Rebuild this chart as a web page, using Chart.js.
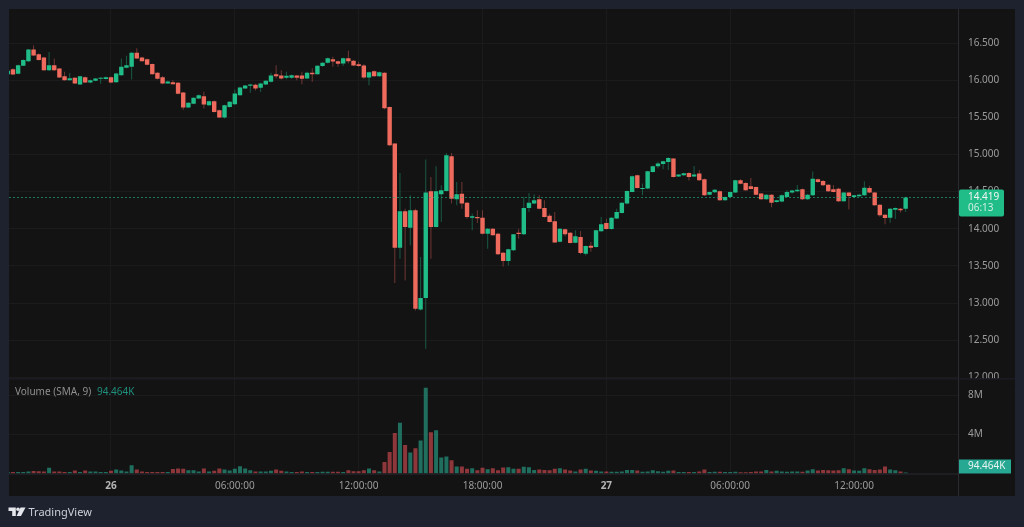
<!DOCTYPE html>
<html>
<head>
<meta charset="utf-8">
<title>Price and volume, 15 minute candles</title>
<style>
  html, body { margin: 0; padding: 0; background: #1e222e; overflow: hidden; }
  canvas { display: block; position: absolute; left: 0; top: 0; }
</style>
<script src="https://cdn.jsdelivr.net/npm/chart.js@4"></script>
</head>
<body>
<canvas id="chart" width="1024" height="527"></canvas>
<script>
// Bar slots counted in 15 minute steps from midnight on the 26th.
const firstSlot = -20;

const opens = [
  16081,16148,16085,16195,16256,16413,16350,16306,16135,16202,
  16157,16054,16000,16031,15942,16040,15969,15991,16018,16014,
  16040,15973,16067,16166,16180,16368,16306,16283,16216,16099,
  16040,15955,15973,15964,15834,15632,15681,15753,15784,15663,
  15717,15595,15497,15640,15676,15798,15888,15924,15937,15897,
  15941,15977,16081,16063,16031,16031,16063,16063,16022,16099,
  16081,16189,16233,16283,16256,16224,16296,16260,16215,16197,
  16036,16121,16054,16099,15640,15146,13744,14234,14014,14248,
  12913,13066,14504,14023,14463,14508,14975,14396,14472,14351,
  14149,14158,14149,13933,14001,13933,13677,13565,13709,13947,
  13924,14279,14338,14396,14279,14176,14100,13825,13992,13947,
  13812,13888,13664,13772,13754,13965,14077,13996,14136,14212,
  14338,14495,14720,14535,14540,14765,14841,14872,14899,14944,
  14702,14720,14751,14702,14742,14666,14459,14490,14504,14383,
  14428,14486,14652,14616,14571,14562,14473,14396,14459,14360,
  14365,14427,14486,14504,14530,14396,14450,14665,14643,14593,
  14530,14539,14369,14486,14427,14436,14450,14548,14486,14324,
  14189,14149,14256,14270,14270
];
const highs = [
  16135,16160,16210,16280,16420,16470,16360,16315,16380,16290,
  16165,16112,16095,16040,16060,16050,16010,16030,16040,16050,
  16050,16100,16290,16330,16375,16430,16315,16290,16225,16105,
  16055,15995,16000,15975,15840,15700,15768,15810,15843,15725,
  15725,15605,15670,15715,15874,15910,15935,15950,15950,15965,
  15998,16099,16202,16135,16112,16075,16070,16112,16112,16160,
  16200,16240,16305,16315,16265,16305,16395,16270,16247,16215,
  16115,16130,16115,16105,15645,15150,14751,14270,14450,14270,
  13619,14931,14697,14841,14585,15020,15020,14630,14630,14360,
  14205,14248,14248,14010,14010,13945,13685,13730,13930,14000,
  14428,14481,14463,14450,14383,14203,14225,14005,14000,13955,
  13978,13970,13775,13820,13985,14158,14135,14155,14270,14358,
  14515,14715,14728,14610,14782,14850,14900,14915,14965,14952,
  14735,14755,14760,14845,14790,14675,14500,14535,14515,14435,
  14500,14660,14665,14625,14684,14570,14480,14465,14465,14390,
  14465,14520,14525,14590,14540,14470,14770,14675,14655,14600,
  14590,14550,14495,14490,14455,14470,14640,14580,14495,14330,
  14195,14280,14285,14280,14430
];
const lows = [
  16050,16070,16080,16190,16245,16325,16260,16125,16125,16125,
  16030,15995,15995,15950,15935,15960,15960,15985,15950,16010,
  15960,15965,16060,16160,16010,16285,16250,16200,16075,16010,
  15945,15950,15940,15810,15600,15625,15675,15745,15618,15650,
  15565,15490,15485,15630,15670,15790,15880,15829,15860,15842,
  15935,15970,16022,16009,16013,16020,16000,15946,16015,15977,
  16075,16180,16225,16180,16180,16190,16225,16190,16180,16020,
  15932,16045,16045,15610,15115,13268,13596,13304,13776,12900,
  12900,12383,13596,14015,14090,14500,14338,14315,14270,14135,
  13978,14077,13925,13731,13905,13645,13493,13506,13700,13866,
  13915,14225,14330,14262,14150,14085,13810,13815,13900,13800,
  13805,13655,13640,13690,13745,13960,13990,13985,14130,14205,
  14330,14490,14540,14450,14530,14755,14810,14800,14790,14690,
  14695,14710,14650,14695,14645,14440,14450,14480,14375,14375,
  14420,14480,14600,14510,14530,14450,14390,14390,14290,14350,
  14355,14420,14470,14490,14390,14390,14440,14620,14575,14495,
  14490,14360,14360,14260,14420,14430,14440,14480,14305,14160,
  14060,14080,14130,14220,14225
];
const closes = [
  16126,16076,16202,16270,16413,16333,16270,16135,16202,16135,
  16036,16000,16027,15955,16054,15969,16000,16022,16031,16040,
  15969,16090,16180,16202,16368,16292,16256,16207,16081,16018,
  15955,15982,15946,15816,15632,15695,15762,15798,15672,15717,
  15573,15497,15663,15708,15820,15901,15928,15941,15888,15955,
  15991,16063,16054,16022,16058,16067,16031,16018,16099,16081,
  16193,16233,16296,16251,16220,16296,16256,16197,16189,16036,
  16108,16054,16108,15622,15124,13744,14234,14023,14248,12922,
  13066,14486,14023,14504,14517,14989,14405,14463,14338,14158,
  14167,14140,13933,14001,13911,13655,13565,13722,13924,13929,
  14279,14351,14383,14270,14158,14091,13816,14001,13924,13807,
  13897,13673,13767,13745,13978,14059,13996,14149,14225,14351,
  14508,14706,14549,14549,14774,14841,14877,14908,14953,14697,
  14729,14747,14697,14729,14652,14450,14495,14526,14383,14428,
  14495,14652,14607,14517,14535,14459,14396,14459,14351,14383,
  14450,14495,14513,14526,14396,14459,14674,14629,14584,14504,
  14495,14369,14486,14441,14450,14459,14553,14486,14315,14180,
  14144,14270,14279,14247,14419
];
// Traded volume per bar, in millions.
const volumes = [
  .15,.15,.15,.15,.2,.25,.22,.2,.6,.2,
  .2,.15,.15,.3,.15,.3,.2,.2,.15,.15,
  .27,.4,.3,.2,.85,.4,.2,.15,.15,.15,
  .15,.15,.45,.5,.48,.33,.33,.2,.5,.2,
  .27,.5,.4,.31,.48,.75,.5,.33,.2,.2,
  .2,.27,.4,.27,.2,.15,.15,.2,.15,.15,
  .15,.17,.17,.17,.17,.15,.34,.24,.24,.34,
  .5,.34,.2,1.19,2.2,4.15,5.2,2.93,2.14,2.59,
  3.37,8.78,4.22,4.42,1.63,1.73,1.36,.71,.71,.48,
  .54,.34,.58,.44,.54,.34,.61,.65,.48,.48,
  .68,.65,.37,.41,.37,.34,.48,.54,.41,.31,
  .2,.41,.48,.31,.27,.2,.2,.17,.17,.2,
  .37,.37,.31,.17,.2,.34,.24,.17,.27,.31,
  .15,.15,.15,.15,.2,.41,.15,.17,.17,.15,
  .15,.17,.12,.12,.15,.2,.2,.37,.2,.27,
  .2,.17,.2,.2,.17,.31,.44,.31,.37,.34,
  .31,.34,.54,.44,.31,.27,.54,.44,.37,.41,
  .71,.41,.34,.2,.094464
];

const timeTickSlots = [0, 24, 48, 72, 96, 120, 144];
const timeLabels = ['26', '06:00:00', '12:00:00', '18:00:00', '27', '06:00:00', '12:00:00'];
const dayLabels = ['26', '27'];
const priceTicks = [16500, 16000, 15500, 15000, 14500, 14000, 13500, 13000, 12500, 12000];
const volumeTicks = [4, 8];
const lastPriceText = '14.419';
const countdownText = '06:13';
const lastVolumeText = '94.464K';
const lastPrice = closes[closes.length - 1];

const UP = '#20bd88', DOWN = '#ee6a5c';
const UP_WICK = 'rgba(32,189,136,.42)', DOWN_WICK = 'rgba(238,106,92,.42)';
const UP_VOL = 'rgba(38,166,140,.62)', DOWN_VOL = 'rgba(239,83,90,.56)';
const FONT = '"Noto Sans"';
const PANEL = '#131314', GRID = '#1b1b1e', EDGE = '#2a2b30', LABEL = '#9c9c9c';

const slots = opens.map((_, i) => firstSlot + i);
const isUp = i => closes[i] >= opens[i];

const wicks = slots.map((x, i) => ({ x, y: [lows[i], highs[i]] }));
const bodies = slots.map((x, i) => ({ x, y: [opens[i], closes[i]] }));
const volumeBars = slots.map((x, i) => ({ x, y: volumes[i] }));

const labelForSlot = slot => timeLabels[timeTickSlots.indexOf(slot)];
const useTicks = values => scale => { scale.ticks = values.map(value => ({ value })); };

// Fixed axis widths and no extra room for overhanging tick labels.
const fitWidth = width => scale => {
  scale.width = width;
  scale.paddingTop = 0;
  scale.paddingBottom = 0;
};

function roundedRect(ctx, x, y, w, h, r) {
  ctx.beginPath();
  ctx.roundRect(x, y, w, h, r);
  ctx.fill();
}

// Dark panel behind both panes, with the outer page colour around it.
const backdrop = {
  id: 'backdrop',
  beforeDraw(chart) {
    const { ctx } = chart;
    ctx.save();
    ctx.fillStyle = '#1e222e';
    ctx.fillRect(0, 0, chart.width, chart.height);
    ctx.fillStyle = PANEL;
    ctx.fillRect(9, 9, 1006, 487);
    ctx.restore();
  }
};

// Last price line, axis tags, legend line, pane edges and the brand mark.
const overlays = {
  id: 'overlays',
  afterDraw(chart) {
    const { ctx, chartArea: a, scales } = chart;
    const priceY = scales.y.getPixelForValue(lastPrice);
    const paneEdge = scales.y.bottom;
    ctx.save();

    // The lowest price label is cut off at the pane edge.
    ctx.fillStyle = PANEL;
    ctx.fillRect(a.right + 1, paneEdge, 56, 7);

    ctx.strokeStyle = EDGE;
    ctx.lineWidth = 1;
    ctx.beginPath();
    ctx.moveTo(a.right + .5, 9);
    ctx.lineTo(a.right + .5, 496);
    ctx.moveTo(a.left, a.bottom + .5);
    ctx.lineTo(a.right, a.bottom + .5);
    ctx.stroke();

    ctx.strokeStyle = '#20202a';
    ctx.beginPath();
    ctx.moveTo(a.left, paneEdge + .5);
    ctx.lineTo(1015, paneEdge + .5);
    ctx.stroke();

    ctx.strokeStyle = UP;
    ctx.globalAlpha = .6;
    ctx.setLineDash([2, 2]);
    ctx.beginPath();
    ctx.moveTo(a.left, Math.floor(priceY) + .5);
    ctx.lineTo(a.right, Math.floor(priceY) + .5);
    ctx.stroke();
    ctx.setLineDash([]);
    ctx.globalAlpha = 1;

    ctx.fillStyle = UP;
    roundedRect(ctx, a.right + 1, priceY - 8, 45, 27, 2);
    ctx.fillStyle = '#f2f5f4';
    ctx.font = `10px ${FONT}`;
    ctx.textAlign = 'left';
    ctx.textBaseline = 'middle';
    ctx.fillText(lastPriceText, a.right + 10, priceY);
    ctx.fillStyle = '#cfeee3';
    ctx.fillText(countdownText, a.right + 10, priceY + 11);

    ctx.fillStyle = '#26a892';
    ctx.fillRect(a.right + 1, 459.5, 52, 14);
    ctx.fillStyle = '#e8f4f1';
    ctx.fillText(lastVolumeText, a.right + 10, 466.5);

    ctx.fillStyle = '#8f8f8f';
    ctx.fillText('Volume (SMA, 9)', 15, 392);
    ctx.fillStyle = '#1f8f7b';
    ctx.fillText(lastVolumeText, 97, 392);

    ctx.fillStyle = '#e4e6ec';
    ctx.beginPath();
    ctx.moveTo(8.5, 507.5); ctx.lineTo(15.8, 507.5); ctx.lineTo(15.8, 516);
    ctx.lineTo(12.2, 516); ctx.lineTo(12.2, 511); ctx.lineTo(8.5, 511);
    ctx.closePath();
    ctx.fill();
    ctx.beginPath();
    ctx.arc(18, 509.3, 1.8, 0, Math.PI * 2);
    ctx.fill();
    ctx.beginPath();
    ctx.moveTo(20.5, 507.5); ctx.lineTo(25.5, 507.5); ctx.lineTo(21, 516);
    ctx.lineTo(16.6, 516);
    ctx.closePath();
    ctx.fill();

    ctx.fillStyle = '#ccd0d8';
    ctx.font = `11px ${FONT}`;
    ctx.fillText('TradingView', 28.5, 513);
    ctx.restore();
  }
};

new Chart(document.getElementById('chart'), {
  data: {
    datasets: [
      {
        type: 'bar', label: 'Wick', data: wicks, yAxisID: 'y', order: 3,
        barThickness: 1, grouped: false, inflateAmount: 0,
        backgroundColor: wicks.map((_, i) => isUp(i) ? UP_WICK : DOWN_WICK)
      },
      {
        type: 'bar', label: 'Body', data: bodies, yAxisID: 'y', order: 2,
        barThickness: 4.4, grouped: false, inflateAmount: 0,
        backgroundColor: bodies.map((_, i) => isUp(i) ? UP : DOWN)
      },
      {
        type: 'bar', label: 'Volume', data: volumeBars, yAxisID: 'volume', order: 1,
        barThickness: 4, grouped: false, inflateAmount: 0,
        backgroundColor: volumeBars.map((_, i) => isUp(i) ? UP_VOL : DOWN_VOL)
      }
    ]
  },
  options: {
    responsive: false,
    animation: false,
    layout: { padding: { left: 9, top: 9, right: 9, bottom: 31 } },
    plugins: { legend: { display: false }, tooltip: { enabled: false } },
    scales: {
      x: {
        type: 'linear',
        offset: false,
        min: -19.767,
        max: 164.147,
        afterBuildTicks: useTicks(timeTickSlots),
        afterFit(scale) {
          scale.height = 22.5;
          scale.paddingLeft = 0;
          scale.paddingRight = 0;
        },
        grid: { color: GRID, drawTicks: false, offset: false },
        border: { display: false },
        ticks: {
          autoSkip: false,
          maxRotation: 0,
          padding: 7,
          color(ctx) {
            return dayLabels.includes(labelForSlot(ctx.tick.value)) ? '#b5b5b5' : LABEL;
          },
          font(ctx) {
            const day = ctx.tick && dayLabels.includes(labelForSlot(ctx.tick.value));
            return { family: FONT, size: 10, weight: day ? '700' : '400' };
          },
          callback(value) { return labelForSlot(value) ?? ''; }
        }
      },
      y: {
        type: 'linear',
        position: 'right',
        stack: 'panes',
        stackWeight: 369,
        min: 11985,
        max: 16958,
        afterBuildTicks: useTicks(priceTicks),
        afterFit: fitWidth(57),
        grid: { color: GRID, drawTicks: false },
        border: { display: false },
        ticks: {
          padding: 10,
          color: LABEL,
          font: { family: FONT, size: 10 },
          callback(value) {
            const text = String(value);
            return text.slice(0, -3) + '.' + text.slice(-3);
          }
        }
      },
      volume: {
        type: 'linear',
        position: 'right',
        stack: 'panes',
        stackWeight: 95,
        min: 0,
        max: 9.74,
        afterBuildTicks: useTicks(volumeTicks),
        afterFit: fitWidth(57),
        grid: { color: GRID, drawTicks: false },
        border: { display: false },
        ticks: {
          padding: 10,
          color: LABEL,
          font: { family: FONT, size: 10 },
          callback(value) { return value + 'M'; }
        }
      }
    }
  },
  plugins: [backdrop, overlays]
});
</script>
</body>
</html>
